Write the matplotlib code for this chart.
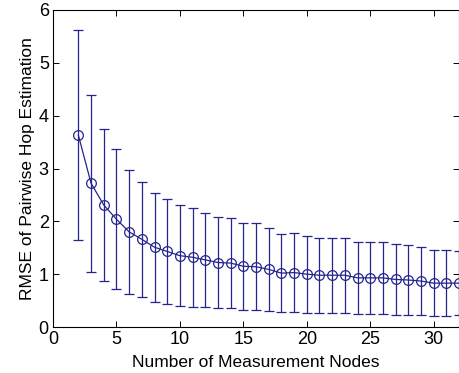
import matplotlib
matplotlib.use("Agg")
import matplotlib.pyplot as plt
import numpy as np

plt.rcParams['font.family'] = ['Liberation Sans', 'DejaVu Sans']

# number of measurement nodes
nodes = list(range(2, 33))

# mean RMSE
rmse_mean = [3.63, 2.72, 2.31, 2.04, 1.80, 1.66, 1.51, 1.43, 1.35, 1.32,
             1.27, 1.22, 1.21, 1.15, 1.14, 1.09, 1.02, 1.03, 1.00, 0.98,
             0.98, 0.98, 0.93, 0.93, 0.93, 0.90, 0.89, 0.87, 0.83, 0.83,
             0.83]

# half length of the error bars
rmse_std = [1.99, 1.68, 1.43, 1.32, 1.18, 1.09, 1.03, 1.00, 0.96, 0.94,
            0.89, 0.86, 0.85, 0.82, 0.82, 0.79, 0.74, 0.75, 0.73, 0.71,
            0.71, 0.71, 0.68, 0.68, 0.68, 0.67, 0.66, 0.64, 0.62, 0.62,
            0.61]

x_ticks = [0, 5, 10, 15, 20, 25, 30]
y_ticks = [0, 1, 2, 3, 4, 5, 6]

azul = '#24248e'

fig = plt.figure(figsize=(4.59, 3.73), dpi=100)
ax = fig.add_axes([53/459, 1-327/373, 406/459, 317/373])

ax.errorbar(nodes, rmse_mean, yerr=rmse_std, color=azul, lw=0.9,
            marker='o', markersize=7, mfc='none', mec=azul, mew=0.9,
            capsize=3.5, capthick=0.9, elinewidth=0.9)

ax.set_xlim(0, 32)
ax.set_ylim(0, 6)
ax.set_xticks(x_ticks)
ax.set_yticks(y_ticks)
ax.tick_params(direction='in', length=4, width=0.7, top=True, right=True,
               labelsize=13, pad=3)
for s in ax.spines.values():
    s.set_linewidth(0.8)

ax.set_xlabel('Number of Measurement Nodes', fontsize=12.5, labelpad=5)
ax.set_ylabel('RMSE of Pairwise Hop Estimation', fontsize=12.5, labelpad=3)

fig.savefig('out.png', dpi=100)
